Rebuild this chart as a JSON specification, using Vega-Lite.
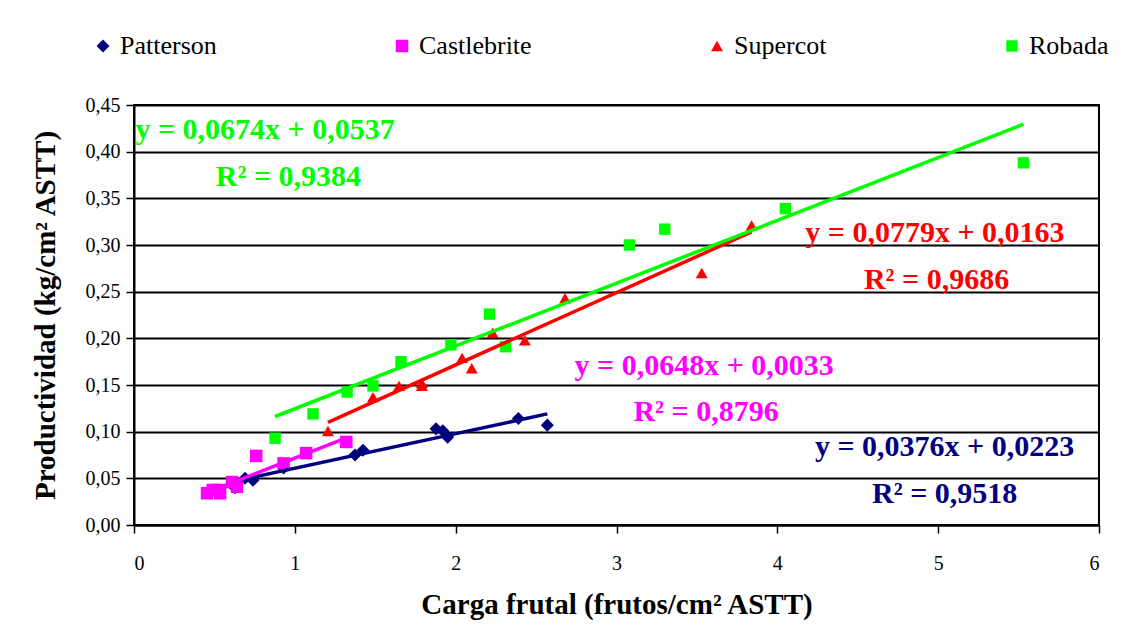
{
  "$schema": "https://vega.github.io/schema/vega-lite/v6.json",
  "autosize": "none",
  "width": 965,
  "height": 420,
  "padding": {"left": 134, "top": 105, "right": 25, "bottom": 101},
  "background": "white",
  "config": {
    "locale": {"number": {"decimal": ",", "thousands": ".", "grouping": [3], "currency": ["", " €"]}},
    "view": {"stroke": "black", "strokeWidth": 2},
    "font": "Liberation Serif"
  },
  "datasets": {
    "pts": [
      {"serie": "Patterson", "x": 0.628, "y": 0.040},
      {"serie": "Patterson", "x": 0.69, "y": 0.050},
      {"serie": "Patterson", "x": 0.74, "y": 0.048},
      {"serie": "Patterson", "x": 0.93, "y": 0.061},
      {"serie": "Patterson", "x": 1.374, "y": 0.075},
      {"serie": "Patterson", "x": 1.424, "y": 0.080},
      {"serie": "Patterson", "x": 1.878, "y": 0.103},
      {"serie": "Patterson", "x": 1.92, "y": 0.101},
      {"serie": "Patterson", "x": 1.95, "y": 0.094},
      {"serie": "Patterson", "x": 2.39, "y": 0.114},
      {"serie": "Patterson", "x": 2.57, "y": 0.107},
      {"serie": "Castlebrite", "x": 0.454, "y": 0.034},
      {"serie": "Castlebrite", "x": 0.49, "y": 0.0375},
      {"serie": "Castlebrite", "x": 0.52, "y": 0.0375},
      {"serie": "Castlebrite", "x": 0.535, "y": 0.034},
      {"serie": "Castlebrite", "x": 0.61, "y": 0.046},
      {"serie": "Castlebrite", "x": 0.64, "y": 0.041},
      {"serie": "Castlebrite", "x": 0.76, "y": 0.074},
      {"serie": "Castlebrite", "x": 0.93, "y": 0.066},
      {"serie": "Castlebrite", "x": 1.07, "y": 0.077},
      {"serie": "Castlebrite", "x": 1.32, "y": 0.089},
      {"serie": "Supercot", "x": 1.206, "y": 0.1007},
      {"serie": "Supercot", "x": 1.486, "y": 0.137},
      {"serie": "Supercot", "x": 1.648, "y": 0.149},
      {"serie": "Supercot", "x": 1.79, "y": 0.152},
      {"serie": "Supercot", "x": 1.79, "y": 0.149},
      {"serie": "Supercot", "x": 2.04, "y": 0.179},
      {"serie": "Supercot", "x": 2.10, "y": 0.168},
      {"serie": "Supercot", "x": 2.23, "y": 0.206},
      {"serie": "Supercot", "x": 2.43, "y": 0.198},
      {"serie": "Supercot", "x": 2.68, "y": 0.243},
      {"serie": "Supercot", "x": 3.53, "y": 0.270},
      {"serie": "Supercot", "x": 3.84, "y": 0.321},
      {"serie": "Robada", "x": 0.877, "y": 0.093},
      {"serie": "Robada", "x": 1.113, "y": 0.119},
      {"serie": "Robada", "x": 1.325, "y": 0.1425},
      {"serie": "Robada", "x": 1.486, "y": 0.149},
      {"serie": "Robada", "x": 1.66, "y": 0.175},
      {"serie": "Robada", "x": 1.97, "y": 0.193},
      {"serie": "Robada", "x": 2.21, "y": 0.226},
      {"serie": "Robada", "x": 2.31, "y": 0.191},
      {"serie": "Robada", "x": 3.08, "y": 0.300},
      {"serie": "Robada", "x": 3.30, "y": 0.317},
      {"serie": "Robada", "x": 4.05, "y": 0.339},
      {"serie": "Robada", "x": 5.53, "y": 0.388}
    ],
    "eq": [
      {"serie": "Robada", "x": 0.815, "y": 0.423, "label": "y = 0,0674x + 0,0537"},
      {"serie": "Robada", "x": 0.96, "y": 0.373, "label": "R² = 0,9384"},
      {"serie": "Supercot", "x": 4.98, "y": 0.313, "label": "y = 0,0779x + 0,0163"},
      {"serie": "Supercot", "x": 4.99, "y": 0.2625, "label": "R² = 0,9686"},
      {"serie": "Castlebrite", "x": 3.545, "y": 0.170, "label": "y = 0,0648x + 0,0033"},
      {"serie": "Castlebrite", "x": 3.557, "y": 0.121, "label": "R² = 0,8796"},
      {"serie": "Patterson", "x": 5.04, "y": 0.0836, "label": "y = 0,0376x + 0,0223"},
      {"serie": "Patterson", "x": 5.04, "y": 0.033, "label": "R² = 0,9518"}
    ]
  },
  "encoding": {
    "x": {
      "field": "x", "type": "quantitative",
      "scale": {"domain": [0, 6], "nice": false, "zero": true},
      "axis": {
        "title": "Carga frutal (frutos/cm² ASTT)",
        "values": [0, 1, 2, 3, 4, 5, 6], "format": "d",
        "grid": false, "domainColor": "black", "domainWidth": 2,
        "tickColor": "black", "tickWidth": 1.5, "tickSize": 8,
        "labelFont": "Liberation Serif", "labelFontSize": 20, "labelColor": "black", "labelPadding": 20,
        "titleFont": "Liberation Serif", "titleFontSize": 29, "titleFontWeight": "bold", "titleColor": "black", "titlePadding": 17
      }
    },
    "y": {
      "field": "y", "type": "quantitative",
      "scale": {"domain": [0, 0.45], "nice": false},
      "axis": {
        "title": "Productividad (kg/cm² ASTT)",
        "values": [0, 0.05, 0.1, 0.15, 0.2, 0.25, 0.3, 0.35, 0.4, 0.45], "format": ".2f",
        "grid": true, "gridColor": "black", "gridWidth": 2, "gridOpacity": 1,
        "domainColor": "black", "domainWidth": 2,
        "tickColor": "black", "tickWidth": 1.5, "tickSize": 8,
        "labelFont": "Liberation Serif", "labelFontSize": 20, "labelColor": "black", "labelPadding": 6,
        "titleFont": "Liberation Serif", "titleFontSize": 29, "titleFontWeight": "bold", "titleColor": "black", "titlePadding": 25
      }
    }
  },
  "layer": [
    {
      "data": {"name": "pts"},
      "mark": {"type": "point", "filled": true, "opacity": 1},
      "encoding": {
        "color": {
          "field": "serie", "type": "nominal",
          "scale": {"domain": ["Patterson", "Castlebrite", "Supercot", "Robada"], "range": ["#000080", "#FF00FF", "#FF0000", "#00FF00"]},
          "legend": {
            "title": null, "orient": "none", "direction": "horizontal", "columns": 4,
            "legendX": -44, "legendY": -72, "columnPadding": 172,
            "labelFont": "Liberation Serif", "labelFontSize": 26, "labelColor": "black",
            "symbolSize": 110, "symbolOffset": 0, "labelOffset": 4, "symbolStrokeWidth": 0
          }
        },
        "shape": {
          "field": "serie", "type": "nominal",
          "scale": {"domain": ["Patterson", "Castlebrite", "Supercot", "Robada"], "range": ["diamond", "square", "triangle-up", "square"]},
          "legend": null
        },
        "size": {
          "field": "serie", "type": "nominal",
          "scale": {"domain": ["Patterson", "Castlebrite", "Supercot", "Robada"], "range": [170, 130, 190, 130]},
          "legend": null
        }
      }
    },
    {
      "data": {"name": "pts"},
      "transform": [{"regression": "y", "on": "x", "groupby": ["serie"]}],
      "mark": {"type": "line", "strokeWidth": 3.5},
      "encoding": {
        "color": {"field": "serie", "type": "nominal", "legend": null}
      }
    },
    {
      "data": {"name": "eq"},
      "mark": {"type": "text", "font": "Liberation Serif", "fontSize": 30, "fontWeight": "bold", "align": "center", "baseline": "middle"},
      "encoding": {
        "text": {"field": "label"},
        "color": {"field": "serie", "type": "nominal", "legend": null}
      }
    }
  ]
}
